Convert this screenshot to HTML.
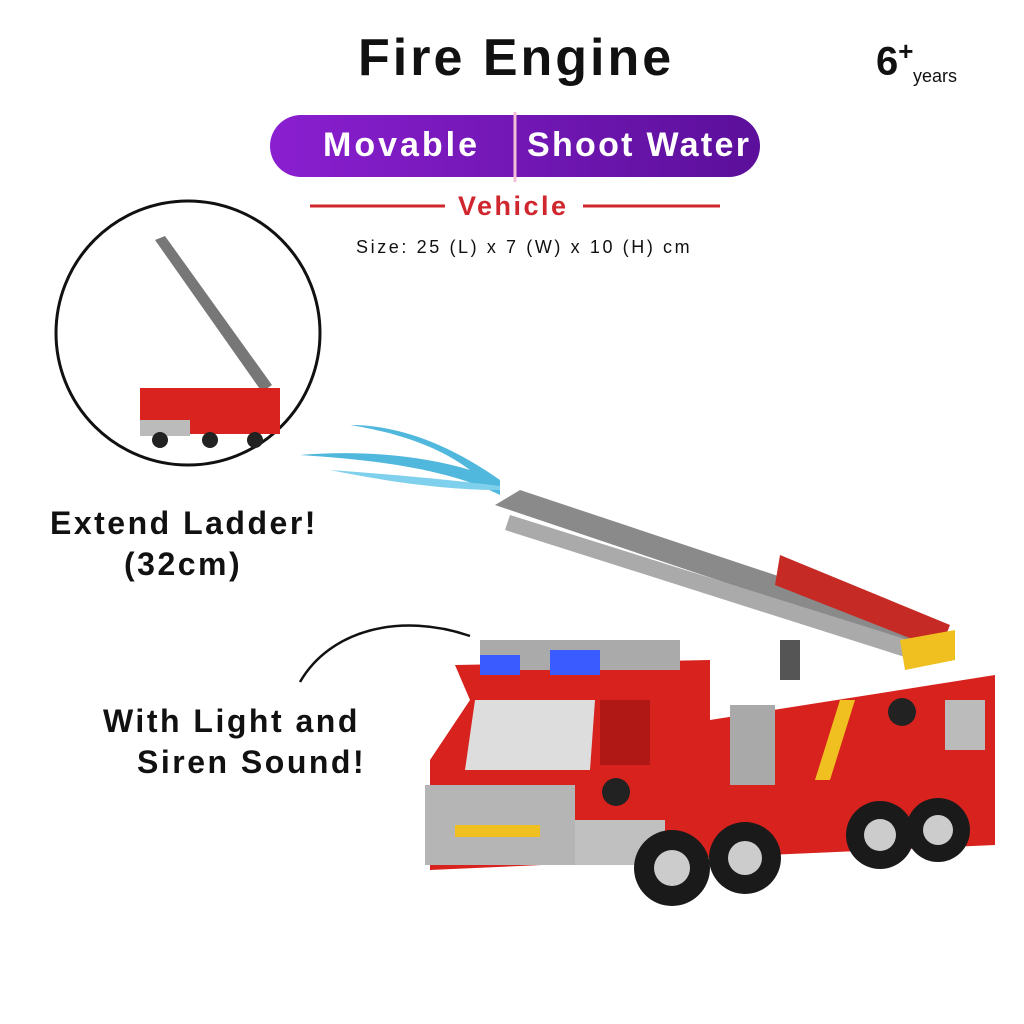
<!DOCTYPE html>
<html><head><meta charset="utf-8"><style>
html,body{margin:0;padding:0;background:#fff;}
body{width:1024px;height:1024px;overflow:hidden;position:relative;font-family:"Liberation Sans",sans-serif;}
.t{position:absolute;font-weight:bold;color:#111;white-space:nowrap;}
</style></head><body>
<svg width="1024" height="1024" style="position:absolute;left:0;top:0">
  <defs>
    <linearGradient id="pg" x1="0" x2="1"><stop offset="0" stop-color="#8a1fd0"/><stop offset="1" stop-color="#5b0f9a"/></linearGradient>
  </defs>
  <rect x="270" y="115" width="490" height="62" rx="31" fill="url(#pg)"/>
  <line x1="515" y1="112" x2="515" y2="182" stroke="#f3c0d8" stroke-width="3"/>
  <line x1="310" y1="206" x2="445" y2="206" stroke="#d0262e" stroke-width="3"/>
  <line x1="583" y1="206" x2="720" y2="206" stroke="#d0262e" stroke-width="3"/>
  <circle cx="188" cy="333" r="132" fill="#fff" stroke="#111" stroke-width="3"/>
  <polygon points="155,240 165,236 272,385 262,392" fill="#777"/>
  <rect x="140" y="388" width="140" height="46" fill="#d8231f"/>
  <rect x="140" y="420" width="50" height="16" fill="#bbb"/>
  <circle cx="160" cy="440" r="8" fill="#222"/><circle cx="210" cy="440" r="8" fill="#222"/><circle cx="255" cy="440" r="8" fill="#222"/>
  <path d="M300,682 C330,630 400,612 470,636" fill="none" stroke="#111" stroke-width="2.5"/>
  <path d="M500,495 C450,470 380,460 300,455 C360,450 420,455 470,470 C430,440 380,430 350,425 C400,425 450,445 500,480 Z" fill="#4fb8dc"/>
  <path d="M500,490 C440,490 380,480 330,470 C400,475 450,480 500,486 Z" fill="#7fd0ec"/>
  <polygon points="495,505 520,490 955,635 940,655" fill="#8a8a8a"/>
  <polygon points="510,515 940,650 930,665 505,530" fill="#aaa"/>
  <polygon points="780,555 950,625 940,650 775,585" fill="#c52a24"/>
  <polygon points="900,640 955,630 955,660 905,670" fill="#f0c020"/>
  <rect x="780" y="640" width="20" height="40" fill="#555"/>
  <polygon points="455,665 710,660 710,720 995,675 995,845 430,870 430,760 470,700" fill="#d8221e"/>
  <polygon points="475,700 595,700 590,770 465,770" fill="#ddd"/>
  <rect x="600" y="700" width="50" height="65" fill="#b01815"/>
  <rect x="730" y="705" width="45" height="80" fill="#a9a9a9"/>
  <rect x="945" y="700" width="40" height="50" fill="#bbb"/>
  <polygon points="840,700 855,700 830,780 815,780" fill="#f0c020"/>
  <rect x="480" y="640" width="200" height="30" fill="#aaa"/>
  <rect x="480" y="655" width="40" height="20" fill="#3a5bff"/>
  <rect x="550" y="650" width="50" height="25" fill="#3a5bff"/>
  <rect x="425" y="785" width="150" height="80" fill="#b5b5b5"/>
  <rect x="455" y="825" width="85" height="12" fill="#f0c020"/>
  <rect x="575" y="820" width="90" height="45" fill="#c0c0c0"/>
  <circle cx="616" cy="792" r="14" fill="#222"/>
  <circle cx="902" cy="712" r="14" fill="#222"/>
  <g fill="#1a1a1a"><circle cx="672" cy="868" r="38"/><circle cx="745" cy="858" r="36"/><circle cx="880" cy="835" r="34"/><circle cx="938" cy="830" r="32"/></g>
  <g fill="#ccc"><circle cx="672" cy="868" r="18"/><circle cx="745" cy="858" r="17"/><circle cx="880" cy="835" r="16"/><circle cx="938" cy="830" r="15"/></g>
</svg>
<div class="t" style="left:358px;top:28px;font-size:52px;letter-spacing:3px;">Fire Engine</div>
<div class="t" style="left:876px;top:36px;font-size:40px;">6<sup style="font-size:26px">+</sup></div>
<div class="t" style="left:913px;top:66px;font-size:18px;font-weight:normal;">years</div>
<div class="t" style="left:323px;top:126px;font-size:34px;color:#fff;letter-spacing:3px;">Movable</div>
<div class="t" style="left:527px;top:126px;font-size:34px;color:#fff;letter-spacing:2.3px;">Shoot Water</div>
<div class="t" style="left:458px;top:191px;font-size:27px;color:#d0262e;letter-spacing:2.5px;">Vehicle</div>
<div class="t" style="left:356px;top:237px;font-size:18px;font-weight:normal;letter-spacing:2.6px;">Size: 25 (L) x 7 (W) x 10 (H) cm</div>
<div class="t" style="left:50px;top:505px;font-size:32px;letter-spacing:2.5px;">Extend Ladder!</div>
<div class="t" style="left:124px;top:546px;font-size:32px;letter-spacing:2.5px;">(32cm)</div>
<div class="t" style="left:103px;top:703px;font-size:32px;letter-spacing:2.5px;">With Light and</div>
<div class="t" style="left:137px;top:744px;font-size:32px;letter-spacing:2.5px;">Siren Sound!</div>
</body></html>
